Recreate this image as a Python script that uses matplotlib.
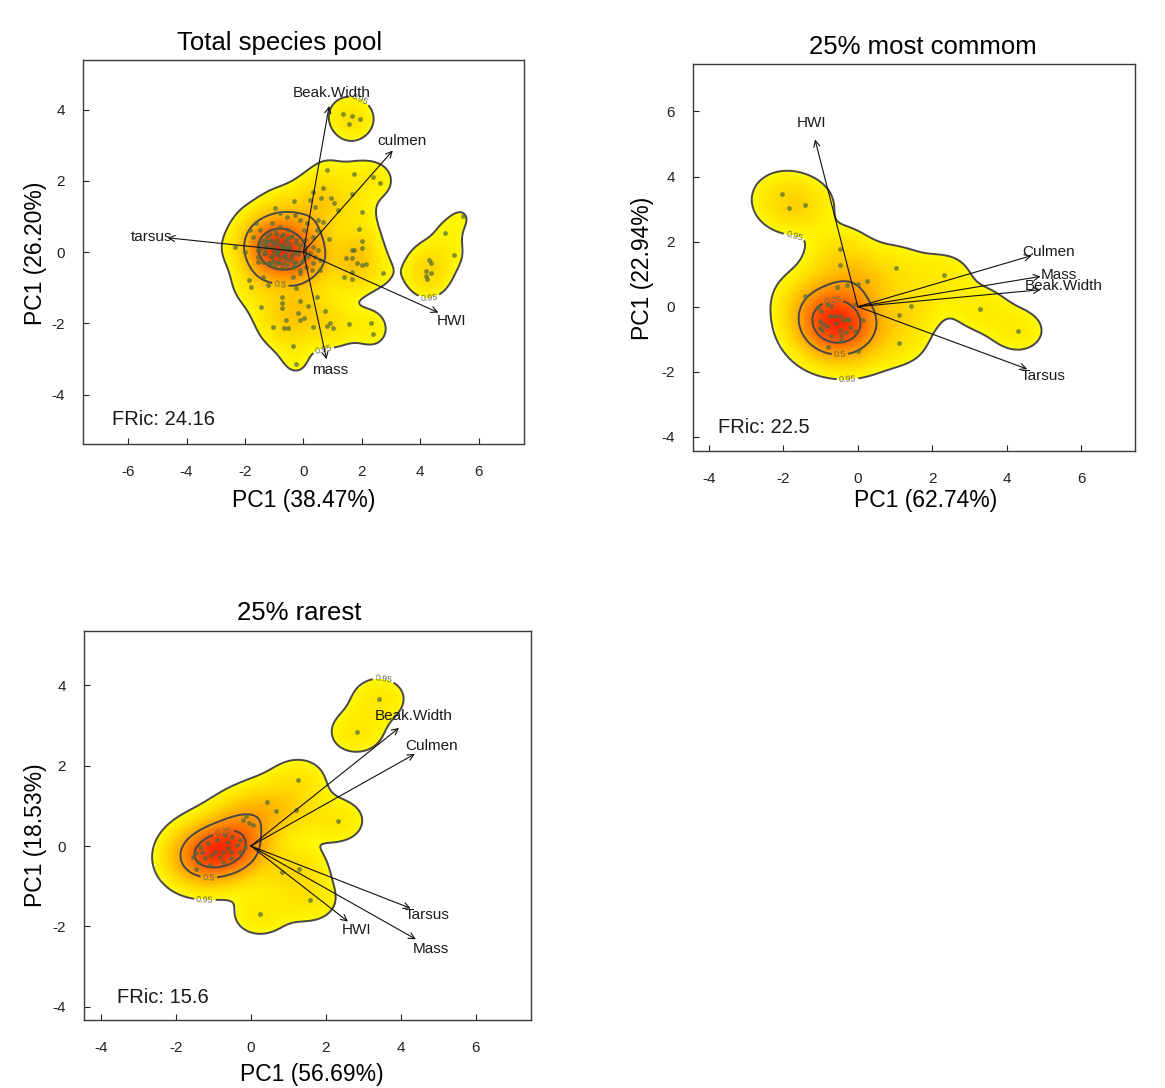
import numpy as np
import matplotlib
matplotlib.use("Agg")
import matplotlib.pyplot as plt
from matplotlib.colors import LinearSegmentedColormap, PowerNorm

plt.rcParams["font.family"] = ["Liberation Sans", "DejaVu Sans"]
plt.rcParams["axes.unicode_minus"] = False

# ---- total species pool ----
pool_x = [0.82, 1.74, 2.37, 2.62, 0.68, 0.22, -0.32, 0.60, 0.96, 1.04, 1.99, 0.39, 0.50,
          0.68, 1.19, 1.89, 0.88, 2.71, 1.65, 1.73, 1.47, 1.65, 1.82, 1.99, 2.13, 2.02,
          1.40, 1.66, 1.68, 0.33, 1.68, 1.99, -0.98,
          -1.84, -2.01, -2.35, -1.86, -1.78, -1.21, -1.38, -1.44, -0.75, -0.12, -0.72,
          -1.61, -1.09,
          -1.72, -1.49, -1.32, -1.15, -0.98, -0.81, -0.69, -0.52, -0.41, -0.24, -0.12,
          0.01, 0.05, -0.58, -0.81, -1.04, -1.27, -1.44, -1.55, -1.32, -1.09, -0.87,
          -0.64, -0.47, -0.24, 0.01, 0.22, 0.39, 0.56, 0.33, 0.10, -0.12, -0.35, -0.69,
          -0.92, -1.15, -1.38, -1.55, 0.33, 0.50, 0.28, -0.35, -0.12, 0.56, -1.55, -0.29,
          -0.56, -0.81, -0.12, 0.11, 0.33, 0.45,
          -1.20, -1.00, -0.90, -0.70, -0.50, -0.30, -1.10, -0.80, -0.60, -0.40, -1.30,
          -0.95, -0.55, -0.20, -0.75, -1.00,
          -1.45, -1.35, -1.25, -1.15, -1.05, -0.95, -0.85, -0.78, -0.68, -0.62, -0.55,
          -0.45, -0.38, -0.32, -0.25, -0.15, -0.05, 0.05, 0.15, -1.50, -1.20, -0.90,
          -0.72, -0.50, -1.10, -0.85, -0.60, -0.40, -1.30, -1.00,
          -0.24, 0.45, -0.72, 0.16, 0.73, -0.18, 0.01, -0.12, -0.60, -1.04, -0.67, -0.52,
          0.33, 0.82, 0.90, 1.02, 1.57, 2.30, 2.39, -0.35, -0.24,
          1.36, 1.65, 1.95, 1.57,
          5.45, 4.84, 5.16, 4.29, 4.36, 4.21, 4.36, 4.21, 4.24]
pool_y = [2.30, 2.18, 2.12, 1.95, 1.79, 1.46, 1.44, 1.51, 1.51, 1.37, 1.13, 1.27, 0.90,
          0.85, 1.18, 0.64, 0.36, -0.60, 0.06, 0.06, -0.18, -0.18, -0.30, -0.37, -0.34, 0.10,
          -0.71, -0.77, -0.55, 1.69, 1.63, 0.32, 1.25,
          0.62, 0.01, 0.13, -0.79, -0.97, -0.93, -0.69, -1.54, -1.44, -1.37, -1.26,
          0.81, 0.81,
          0.43, 0.62, 0.34, 0.52, 0.62, 0.71, 0.52, 0.62, 0.43, 0.34, 0.20,
          0.62, 0.34, 0.15, 0.20, 0.24, 0.15, 0.20, 0.06, -0.04, -0.13, 0.01,
          -0.08, -0.22, -0.27, -0.18, -0.04, -0.13, -0.22, -0.32, -0.41, -0.51, -0.41, -0.32,
          -0.27, -0.32, -0.27, -0.13, 0.15, 0.06, -0.51, -0.69, -0.60, -0.51, -0.27, 1.04,
          0.98, 1.09, 0.90, 0.81, 0.43, 0.62,
          0.30, 0.10, 0.35, 0.20, 0.05, 0.00, -0.10, -0.15, -0.20, -0.15, 0.10,
          0.50, 0.40, -0.05, -0.45, -0.40,
          0.35, -0.05, 0.45, 0.15, -0.25, 0.25, 0.05, 0.45, -0.10, 0.30, -0.35,
          0.15, 0.45, -0.30, 0.25, 0.05, -0.25, 0.15, -0.10, 0.05, -0.30, -0.05,
          0.10, 0.25, 0.35, -0.30, 0.05, -0.05, 0.25, 0.00,
          -1.01, -1.27, -1.58, -1.52, -1.66, -1.70, -1.86, -1.91, -1.91, -2.10, -2.12, -2.12,
          -2.10, -2.08, -1.99, -2.12, -2.02, -1.99, -2.29, -2.64, -3.15,
          3.88, 3.82, 3.73, 3.59,
          1.01, 0.54, -0.08, -0.22, -0.30, -0.52, -0.58, -0.67, -0.77]
pool_traits = ["Beak.Width", "culmen", "tarsus", "HWI", "mass"]
pool_tip_x = [0.88, 3.06, -4.65, 4.62, 0.79]
pool_tip_y = [4.10, 2.85, 0.40, -1.70, -3.01]
pool_lab_x = [0.97, 3.36, -5.20, 5.07, 0.92]
pool_lab_y = [4.47, 3.13, 0.42, -1.93, -3.30]

# ---- 25% most common ----
common_x = [-2.03, -1.85, -1.42,
            -0.48, -0.48, 1.02, 2.31, -0.56, -0.29, 0.01, 0.25, -1.41, -0.08, 1.44, 3.28,
            1.11, 4.31, 1.10, 0.14, -0.80, 0.01,
            -1.08, -0.82, -0.73, -0.98, -1.02, -0.93, -0.75, -0.62, -0.48, -0.39, -0.29,
            -0.25, -0.59, -0.84, -0.95, -1.02, -0.48, -0.32, -0.20, -0.08, -0.46, -0.44, -0.71]
common_y = [3.45, 3.02, 3.14,
            1.78, 1.29, 1.19, 0.96, 0.61, 0.66, 0.71, 0.80, 0.34, 0.09, 0.03, -0.06,
            -0.27, -0.74, -1.12, -0.42, -1.24, -1.37,
            -0.01, 0.09, 0.01, -0.14, -0.45, -0.52, -0.28, -0.30, -0.28, -0.40, -0.38,
            -0.42, -0.50, -0.61, -0.71, -0.66, -0.71, -0.79, -0.62, -0.76, -1.04, -0.86, -0.91]
common_traits = ["HWI", "Culmen", "Mass", "Beak.Width", "Tarsus"]
common_tip_x = [-1.15, 4.67, 4.91, 4.91, 4.55]
common_tip_y = [5.14, 1.57, 0.93, 0.52, -1.92]
common_lab_x = [-1.25, 5.13, 5.39, 5.54, 4.98]
common_lab_y = [5.65, 1.68, 0.98, 0.62, -2.14]

# ---- 25% rarest ----
rare_x = [3.41, 2.82, 1.26, 0.42, 0.67, 1.19, 2.31, -0.22, -0.12, -0.06, 0.05,
          -1.36, -1.14, -0.91, -0.69, -0.60, -0.49, -0.29, -0.38, -0.74, -0.60, -0.83, -1.05,
          -1.23, -1.31, -0.96, -0.52, -0.29, -0.16, -1.40, -1.09, -0.74, -0.52, -1.45, -1.54,
          -1.47, 0.84, 1.29, 1.57, 0.24]
rare_y = [3.67, 2.84, 1.64, 1.09, 0.88, 0.90, 0.63, 0.65, 0.75, 0.58, 0.52,
          -0.02, 0.07, 0.15, 0.27, 0.11, 0.23, 0.15, 0.02, -0.14, -0.06, -0.27, -0.22,
          -0.31, -0.14, -0.14, -0.14, -0.14, -0.02, -0.39, -0.47, -0.39, -0.31, -0.17, -0.28,
          -0.57, -0.64, -0.58, -1.34, -1.69]
rare_traits = ["Beak.Width", "Culmen", "Tarsus", "HWI", "Mass"]
rare_tip_x = [3.95, 4.37, 4.26, 2.59, 4.40]
rare_tip_y = [2.94, 2.29, -1.55, -1.88, -2.32]
rare_lab_x = [4.35, 4.81, 4.69, 2.83, 4.81]
rare_lab_y = [3.24, 2.50, -1.72, -2.09, -2.56]

heat = LinearSegmentedColormap.from_list(
    "heat", ["#ffff00", "#ffdc00", "#ffa800", "#ff6a00", "#ff2400"])
heat.set_bad(alpha=0)


def kde(px, py, gx, gy, hx, hy):
    px = np.asarray(px)
    py = np.asarray(py)
    X, Y = np.meshgrid(gx, gy)
    dx = (X[..., None] - px) / hx
    dy = (Y[..., None] - py) / hy
    z = np.exp(-0.5 * (dx ** 2 + dy ** 2)).sum(-1)
    return z / (len(px) * 2 * np.pi * hx * hy)


def hdr(z, cell, p):
    v = np.sort(z.ravel())[::-1]
    c = np.cumsum(v) * cell
    return v[min(np.searchsorted(c, p), len(v) - 1)]


def panel(ax, px, py, h, xlim, ylim, traits, tx, ty, lx, ly, fric, fric_xy, lab_pos):
    gx = np.linspace(xlim[0], xlim[1], 260)
    gy = np.linspace(ylim[0], ylim[1], 260)
    z = kde(px, py, gx, gy, h[0], h[1])
    cell = (gx[1] - gx[0]) * (gy[1] - gy[0])
    levels = {p: hdr(z, cell, p) for p in (0.95, 0.5, 0.25)}

    zf = np.where(z >= levels[0.95], z, np.nan)
    ax.imshow(zf, extent=(xlim[0], xlim[1], ylim[0], ylim[1]), origin="lower",
              cmap=heat, norm=PowerNorm(0.55, levels[0.95], z.max()),
              interpolation="nearest", aspect="auto", zorder=1)

    for p, txt in [(0.95, "0.95"), (0.5, "0.5"), (0.25, "0.25")]:
        cs = ax.contour(gx, gy, z, levels=[levels[p]], colors="#474747",
                        linewidths=1.4, zorder=2)
        if lab_pos.get(p):
            ax.clabel(cs, fmt={levels[p]: txt}, manual=lab_pos[p], inline=True,
                      inline_spacing=2, fontsize=6.5, colors="#6b6b50")

    ax.scatter(px, py, s=12, color="#4d6b3c", alpha=0.7, linewidths=0, zorder=3)

    for name, x1, y1, x2, y2 in zip(traits, tx, ty, lx, ly):
        ax.annotate("", xy=(x1, y1), xytext=(0, 0),
                    arrowprops=dict(arrowstyle="->", color="#111111", lw=0.8,
                                    shrinkA=0, shrinkB=0, mutation_scale=11),
                    zorder=4)
        ax.text(x2, y2, name, ha="center", va="center", fontsize=11,
                color="#1a1a1a", zorder=5)

    ax.text(fric_xy[0], fric_xy[1], fric, ha="left", va="center", fontsize=14.5,
            color="#1a1a1a")

    ax.set_xlim(xlim)
    ax.set_ylim(ylim)
    for s in ax.spines.values():
        s.set_color("#3a3a3a")
        s.set_linewidth(1.0)
    ax.tick_params(direction="in", length=4, width=0.8, labelsize=11,
                   colors="#222222")
    ax.tick_params(axis="x", pad=15)
    ax.tick_params(axis="y", pad=13)


fig = plt.figure(figsize=(11.65, 10.88), dpi=100)

ax1 = fig.add_axes([0.0712, 0.5919, 0.3785, 0.3529])
panel(ax1, pool_x, pool_y, (0.46, 0.39), (-7.55, 7.55), (-5.39, 5.39),
      pool_traits, pool_tip_x, pool_tip_y, pool_lab_x, pool_lab_y,
      "FRic: 24.16", (-6.54, -4.69),
      {0.95: [(1.85, 4.15), (0.65, -2.57), (4.28, -1.05)], 0.5: [(-0.74, -0.69)]})
ax1.set_xticks([-6, -4, -2, 0, 2, 4, 6])
ax1.set_yticks([-4, -2, 0, 2, 4])
ax1.set_xlabel("PC1 (38.47%)", fontsize=16.5)
ax1.set_ylabel("PC1 (26.20%)", fontsize=16.5)
ax1.xaxis.set_label_coords(0.501, -0.146)
ax1.yaxis.set_label_coords(-0.107, 0.497)

ax2 = fig.add_axes([0.5947, 0.5857, 0.3798, 0.3552])
panel(ax2, common_x, common_y, (0.56, 0.52), (-4.43, 7.45), (-4.43, 7.45),
      common_traits, common_tip_x, common_tip_y, common_lab_x, common_lab_y,
      "FRic: 22.5", (-3.76, -3.71),
      {0.95: [(-1.66, 2.39), (-0.28, -2.06)], 0.5: [(-0.48, -1.39)],
       0.25: [(-0.65, -0.04)]})
ax2.set_xticks([-4, -2, 0, 2, 4, 6])
ax2.set_yticks([-4, -2, 0, 2, 4, 6])
ax2.set_xlabel("PC1 (62.74%)", fontsize=16.5)
ax2.set_ylabel("PC1 (22.94%)", fontsize=16.5)
ax2.xaxis.set_label_coords(0.526, -0.128)
ax2.yaxis.set_label_coords(-0.114, 0.473)

ax3 = fig.add_axes([0.0721, 0.0625, 0.3837, 0.3575])
panel(ax3, rare_x, rare_y, (0.52, 0.39), (-4.45, 7.47), (-4.33, 5.35),
      rare_traits, rare_tip_x, rare_tip_y, rare_lab_x, rare_lab_y,
      "FRic: 15.6", (-3.57, -3.77),
      {0.95: [(3.51, 4.0), (-1.22, -1.18)], 0.5: [(-1.12, -0.70)],
       0.25: [(-0.67, 0.07)]})
ax3.set_xticks([-4, -2, 0, 2, 4, 6])
ax3.set_yticks([-4, -2, 0, 2, 4])
ax3.set_xlabel("PC1 (56.69%)", fontsize=16.5)
ax3.set_ylabel("PC1 (18.53%)", fontsize=16.5)
ax3.xaxis.set_label_coords(0.51, -0.141)
ax3.yaxis.set_label_coords(-0.108, 0.476)

for ax in (ax1, ax2, ax3):
    ax.xaxis.label.set_va("center")
    ax.yaxis.label.set_va("center")

fig.text(0.2403, 0.9605, "Total species pool", ha="center", va="center", fontsize=18.5)
fig.text(0.7923, 0.9568, "25% most commom", ha="center", va="center", fontsize=18.5)
fig.text(0.2567, 0.4366, "25% rarest", ha="center", va="center", fontsize=18.5)

fig.savefig("out.png", dpi=100)
